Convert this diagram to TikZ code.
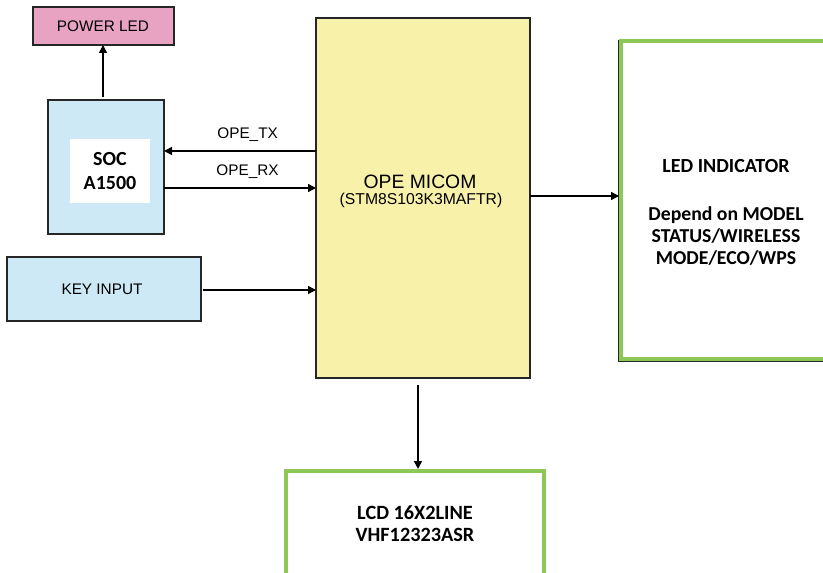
\documentclass[tikz,border=0pt]{standalone}
\usepackage{fontspec}
\setmainfont{Liberation Sans}
\newfontfamily\calb{Carlito}[BoldFont={Carlito Bold}]
\usetikzlibrary{arrows.meta}
\definecolor{pinkf}{HTML}{E8A3C3}
\definecolor{bluef}{HTML}{CDE9F5}
\definecolor{yelf}{HTML}{F8F1AA}
\definecolor{grn}{HTML}{8DC755}
\begin{document}
\begin{tikzpicture}[x=0.75pt,y=-0.75pt,
  box/.style={draw=black!85,line width=1.4pt,inner sep=0pt,outer sep=0pt},
  gbox/.style={draw=grn,line width=3pt,fill=white,inner sep=0pt,outer sep=0pt},
  conn/.style={line width=1.2pt,-{Triangle[length=6pt,width=6pt]}},
  lab/.style={font=\fontsize{11.5}{13}\selectfont}]
\useasboundingbox (0,0) rectangle (823,573);
\fill[white] (0,0) rectangle (823,573);
% boxes
\node[box,fill=pinkf,minimum width={141*0.75pt},minimum height={38*0.75pt},anchor=north west] (pled) at (33,7) {};
\node[lab] at (103,26) {POWER LED};
\node[box,fill=bluef,minimum width={116*0.75pt},minimum height={134*0.75pt},anchor=north west] (soc) at (48,100) {};
\node[fill=white,minimum width={80*0.75pt},minimum height={64*0.75pt},anchor=north west] (socin) at (70,139) {};
\node[font=\calb\bfseries\fontsize{15}{18}\selectfont,align=center] at (110,171) {SOC\\A1500};
\node[box,fill=bluef,minimum width={194*0.75pt},minimum height={64*0.75pt},anchor=north west] (key) at (7,257) {};
\node[lab] at (102,289) {KEY INPUT};
\node[box,fill=yelf,minimum width={214*0.75pt},minimum height={360*0.75pt},anchor=north west] (micom) at (316,18) {};
\node[font=\fontsize{14.5}{16}\selectfont] at (420,182) {OPE MICOM};
\node[font=\fontsize{11.8}{13}\selectfont] at (421,200) {(STM8S103K3MAFTR)};
\draw[black!85,line width=1.4pt] (619,40) -- (619,361) -- (830,361);
\node[gbox,minimum width={220*0.75pt},minimum height={318*0.75pt},anchor=north west] (led) at (621,41) {};
\node[font=\calb\bfseries\fontsize{15}{16.5}\selectfont,align=center] at (726,166) {LED INDICATOR};
\node[font=\calb\bfseries\fontsize{14.8}{16.5}\selectfont,align=center] at (726,236) {Depend on MODEL\\STATUS/WIRELESS\\MODE/ECO/WPS};
\node[gbox,minimum width={258*0.75pt},minimum height={110*0.75pt},anchor=north west] (lcd) at (286,471) {};
\node[font=\calb\bfseries\fontsize{15.2}{16.5}\selectfont,align=center] at (415,524) {LCD 16X2LINE\\VHF12323ASR};
% connectors
\coordinate (a1) at (103,97);
\draw[conn] (a1) -- (pled.south -| a1);
\coordinate (tx) at (316,151);
\draw[conn] (tx) -- (soc.east |- tx) node[pos=0.45,above=3pt,lab]{OPE\_TX};
\coordinate (rx) at (164,188);
\draw[conn] (rx) -- (micom.west |- rx) node[pos=0.55,above=3pt,lab]{OPE\_RX};
\coordinate (k1) at (203,290);
\draw[conn] (k1) -- (micom.west |- k1);
\coordinate (m1) at (530,196);
\draw[conn] (m1) -- (619,196);
\coordinate (m2) at (418,385);
\draw[conn] (m2) -- (418,469);
\end{tikzpicture}
\end{document}
